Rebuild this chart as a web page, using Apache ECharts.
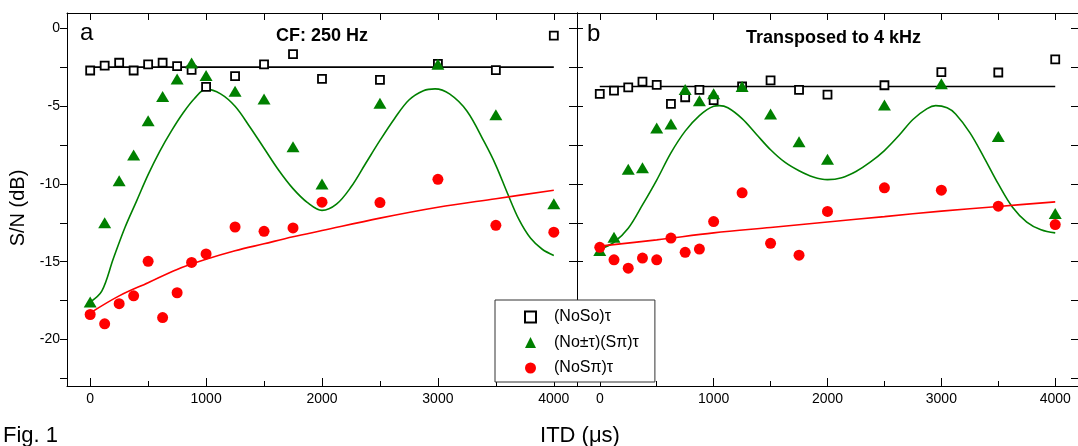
<!DOCTYPE html>
<html><head><meta charset="utf-8">
<script src="https://cdn.jsdelivr.net/npm/echarts@6/dist/echarts.min.js"></script>
<style>html,body{margin:0;padding:0;background:#fff}#c{width:1078px;height:446px}</style>
</head><body><div id="c"></div>
<script>
// ---------- data ----------
const itd = [0,125,250,375,500,625,750,875,1000,1250,1500,1750,2000,2500,3000,3500,4000];

// panel a (CF: 250 Hz)
const aNoSo   = [-2.7,-2.38,-2.2,-2.7,-2.3,-2.2,-2.42,-2.66,-3.75,-3.06,-2.3,-1.64,-3.24,-3.3,-2.27,-2.68,-0.45];
const aNoPlusMinus = [-17.6,-12.5,-9.8,-8.13,-5.93,-4.38,-3.24,-2.22,-3.02,-4.03,-4.53,-7.6,-10.0,-4.8,-2.3,-5.54,-11.28];
const aNoSpi  = [-18.4,-19.0,-17.7,-17.2,-14.98,-18.6,-17.0,-15.05,-14.5,-12.77,-13.05,-12.83,-11.17,-11.2,-9.7,-12.66,-13.1];
const aNoSoLevel = -2.48;
const aGreenFitX = [0,100,200,300,400,500,600,700,800,900,1000,1125,1250,1375,1500,1625,1750,1875,2000,2125,2250,2375,2500,2625,2750,2875,2975,3100,3250,3400,3500,3600,3700,3800,3900,4000];
const aGreenFitY = [-17.6,-16.9,-14.8,-12.8,-11.1,-9.4,-7.9,-6.6,-5.45,-4.5,-3.9,-4.2,-5.0,-6.3,-7.7,-9.1,-10.3,-11.2,-11.7,-11.3,-10.2,-8.7,-7.2,-5.8,-4.6,-4.0,-3.88,-4.2,-5.3,-7.3,-8.8,-10.6,-12.3,-13.5,-14.2,-14.6];
const aRedFitX = [0,250,500,750,1000,1250,1500,1750,2000,2500,3000,3500,4000];
const aRedFitY = [-18.3,-17.2,-16.35,-15.5,-14.85,-14.3,-13.85,-13.4,-13.0,-12.2,-11.5,-10.95,-10.4];

// panel b (Transposed to 4 kHz)
const bNoSo   = [-4.2,-3.99,-3.78,-3.41,-3.62,-4.85,-4.42,-3.95,-4.6,-3.73,-3.34,-3.95,-4.25,-3.65,-2.8,-2.83,-1.99];
const bNoPlusMinus = [-14.28,-13.43,-9.06,-8.95,-6.4,-6.15,-3.93,-4.64,-4.2,-3.73,-5.5,-7.29,-8.41,-4.92,-3.56,-6.95,-11.9];
const bNoSpi  = [-14.08,-14.88,-15.42,-14.77,-14.88,-13.48,-14.4,-14.19,-12.42,-10.57,-13.82,-14.58,-11.77,-10.25,-10.4,-11.43,-12.61];
const bNoSoLevel = -3.73;
const bGreenFitX = [0,125,250,375,500,625,750,875,1000,1050,1125,1250,1375,1500,1625,1750,1875,2000,2125,2250,2375,2500,2625,2750,2875,2950,3050,3125,3250,3375,3500,3625,3750,3875,4000];
const bGreenFitY = [-14.2,-13.75,-12.85,-11.35,-9.75,-8.0,-6.6,-5.6,-5.0,-4.96,-5.1,-5.8,-6.8,-7.8,-8.6,-9.15,-9.55,-9.72,-9.6,-9.2,-8.6,-7.85,-6.9,-5.85,-5.15,-4.96,-5.1,-5.5,-6.7,-8.3,-10.0,-11.5,-12.45,-12.95,-13.15];
const bRedFitX = [0,500,1000,1500,2000,2500,3000,3500,4000];
const bRedFitY = [-14.0,-13.6,-13.15,-12.8,-12.45,-12.1,-11.75,-11.45,-11.15];

// tick values
const xTicks = [0,500,1000,1500,2000,2500,3000,3500,4000];
const xMajor = [0,1000,2000,3000,4000];
const xMinor = [500,1500,2500,3500];
const yTicks = [0,-2.5,-5,-7.5,-10,-12.5,-15,-17.5,-20,-22.5];
const yLabels = [0,-5,-10,-15,-20];

const names = ['(NoSo)τ','(No±τ)(Sπ)τ','(NoSπ)τ'];

// ---------- chart ----------
const FONT = 'Liberation Sans, Arial, sans-serif';
const XMIN = -200, XMAX = 4200, YMIN = -23, YMAX = 1;
const zip = (xs, ys) => xs.map((x, i) => [x, ys[i]]);
const line = {onZero: false, lineStyle: {color: '#000', width: 1}};

function xAxes(g, labels) {
  return [
    {gridIndex: g, type: 'value', min: XMIN, max: XMAX, position: 'bottom', axisLine: line,
     axisTick: {inside: true, length: 8, customValues: xMajor, lineStyle: {color: '#000'}},
     axisLabel: {show: labels, customValues: xMajor, formatter: v => String(v), color: '#000', fontSize: 14, fontFamily: FONT, margin: 6},
     splitLine: {show: false}},
    {gridIndex: g, type: 'value', min: XMIN, max: XMAX, position: 'top', axisLine: line,
     axisTick: {inside: true, length: 7, customValues: xTicks, lineStyle: {color: '#000'}},
     axisLabel: {show: false}, splitLine: {show: false}}
  ];
}
function minorX(g) {
  return {gridIndex: g, type: 'value', min: XMIN, max: XMAX, position: 'bottom', axisLine: {show: false, onZero: false},
    axisTick: {inside: true, length: 5, customValues: xMinor, lineStyle: {color: '#000'}},
    axisLabel: {show: false}, splitLine: {show: false}};
}
function yAxes(g, leftOut, labels, leftLen, rightLen) {
  return [
    {gridIndex: g, type: 'value', min: YMIN, max: YMAX, position: 'left', axisLine: line,
     axisTick: {inside: !leftOut, length: leftLen, customValues: yTicks, lineStyle: {color: '#000'}},
     axisLabel: {show: labels, customValues: yLabels, formatter: v => String(v), color: '#000', fontSize: 14, fontFamily: FONT, margin: 7},
     splitLine: {show: false}},
    {gridIndex: g, type: 'value', min: YMIN, max: YMAX, position: 'right', axisLine: line,
     axisTick: {inside: true, length: rightLen, customValues: yTicks, lineStyle: {color: '#000'}},
     axisLabel: {show: false}, splitLine: {show: false}}
  ];
}

function panelSeries(xi, yi, noSo, pm, spi, level, gX, gY, rX, rY) {
  const base = {xAxisIndex: xi, yAxisIndex: yi};
  return [
    Object.assign({type: 'line', name: 'fitG' + xi, data: zip(gX, gY), smooth: 0.35, showSymbol: false, symbol: 'none',
      lineStyle: {color: '#008000', width: 1.6}, z: 2, silent: true}, base),
    Object.assign({type: 'line', name: 'fitR' + xi, data: zip(rX, rY), smooth: 0.35, showSymbol: false, symbol: 'none',
      lineStyle: {color: '#ff0000', width: 1.6}, z: 2, silent: true}, base),
    Object.assign({type: 'line', name: 'lvl' + xi, data: [[0, level], [4000, level]], showSymbol: false, symbol: 'none',
      lineStyle: {color: '#000', width: 1.6}, z: 2, silent: true}, base),
    Object.assign({type: 'scatter', name: names[0], data: zip(itd, noSo), symbol: 'rect', symbolSize: 8,
      itemStyle: {color: '#fff', borderColor: '#000', borderWidth: 1.8, opacity: 1}, z: 3}, base),
    Object.assign({type: 'scatter', name: names[1], data: zip(itd, pm), symbol: 'triangle', symbolSize: [13, 11],
      itemStyle: {color: '#008000', opacity: 1}, z: 4}, base),
    Object.assign({type: 'scatter', name: names[2], data: zip(itd, spi), symbol: 'circle', symbolSize: 11,
      itemStyle: {color: '#ff0000', opacity: 1}, z: 5}, base)
  ];
}

const xa0 = xAxes(0, true), xa1 = xAxes(1, true);
const ya0 = yAxes(0, true, true, 7, 8), ya1 = yAxes(1, false, false, 6, 7);

const option = {
  animation: false,
  backgroundColor: '#fff',
  grid: [
    {left: 67, top: 13, width: 510, height: 373},
    {left: 577, top: 13, width: 507, height: 373},
    {left: 67, top: 13, width: 510, height: 373},
    {left: 577, top: 13, width: 507, height: 373}
  ],
  xAxis: [xa0[0], xa0[1], xa1[0], xa1[1], minorX(2), minorX(3)],
  yAxis: [ya0[0], ya0[1], ya1[0], ya1[1],
    {gridIndex: 2, type: 'value', min: YMIN, max: YMAX, show: false},
    {gridIndex: 3, type: 'value', min: YMIN, max: YMAX, show: false}],
  legend: {
    data: names, orient: 'vertical', left: 495, top: 300,
    itemWidth: 11, itemHeight: 11, itemGap: 9.5,
    padding: [9, 16, 6, 29],
    backgroundColor: '#fff', borderColor: '#333', borderWidth: 1,
    selectedMode: false, z: 10,
    textStyle: {fontSize: 16, fontFamily: FONT, color: '#000', padding: [0, 0, 0, 13]}
  },
  series: [].concat(
    panelSeries(0, 0, aNoSo, aNoPlusMinus, aNoSpi, aNoSoLevel, aGreenFitX, aGreenFitY, aRedFitX, aRedFitY),
    panelSeries(2, 2, bNoSo, bNoPlusMinus, bNoSpi, bNoSoLevel, bGreenFitX, bGreenFitY, bRedFitX, bRedFitY)
  ),
  graphic: [
    {type: 'text', x: 80, y: 33.5, style: {text: 'a', font: '24px ' + FONT, fill: '#000', verticalAlign: 'middle'}},
    {type: 'text', x: 276, y: 35.6, style: {text: 'CF: 250 Hz', font: 'bold 18px ' + FONT, fill: '#000', verticalAlign: 'middle'}},
    {type: 'text', x: 587, y: 34, style: {text: 'b', font: '24px ' + FONT, fill: '#000', verticalAlign: 'middle'}},
    {type: 'text', x: 746, y: 38.2, style: {text: 'Transposed to 4 kHz', font: 'bold 18px ' + FONT, fill: '#000', verticalAlign: 'middle'}},
    {type: 'text', x: 580, y: 436, style: {text: 'ITD (μs)', font: '22px ' + FONT, fill: '#000', align: 'center', verticalAlign: 'middle'}},
    {type: 'text', x: 3, y: 436, style: {text: 'Fig. 1', font: '22px ' + FONT, fill: '#000', verticalAlign: 'middle'}},
    {type: 'text', x: 18, y: 208, rotation: Math.PI / 2, style: {text: 'S/N (dB)', font: '20px ' + FONT, fill: '#000', align: 'center', verticalAlign: 'middle'}}
  ]
};

const chart = echarts.init(document.getElementById('c'), null, {renderer: 'canvas'});
chart.setOption(option);
</script>
</body></html>
